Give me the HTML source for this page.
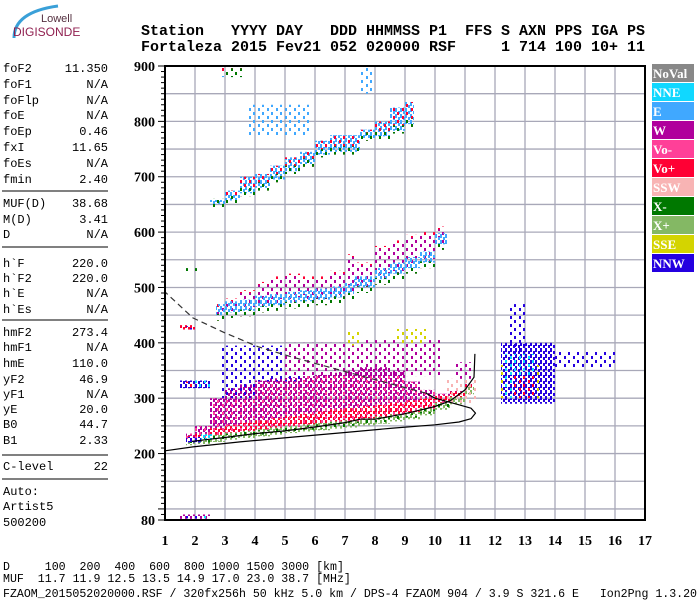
<!DOCTYPE html>
<html><head><meta charset="utf-8">
<style>
html,body{margin:0;padding:0;background:#fff;}
svg{display:block;}
.mono{font-family:"Liberation Mono",monospace;}
.serifb{font-family:"Liberation Serif",serif;font-weight:bold;}
</style></head>
<body>
<svg id="chart" width="700" height="600" viewBox="0 0 700 600" xmlns="http://www.w3.org/2000/svg">
<defs id="defs"></defs>
<g>
  <path d="M14,38 Q14,12 58,6" stroke="#3aa0d8" stroke-width="3" fill="none"/>
  <text x="41" y="22" font-family="Liberation Sans, sans-serif" font-size="11" fill="#553040">Lowell</text>
  <text x="13" y="36" font-family="Liberation Sans, sans-serif" font-size="12" fill="#902050">DIGISONDE</text>
</g>
<g class="mono" font-size="15" font-weight="bold" fill="#000">
  <text x="141" y="35" xml:space="preserve" textLength="504">Station   YYYY DAY   DDD HHMMSS P1  FFS S AXN PPS IGA PS</text>
  <text x="141" y="51" xml:space="preserve" textLength="504">Fortaleza 2015 Fev21 052 020000 RSF     1 714 100 10+ 11</text>
</g>
<g id="leftpanel" class="mono" font-size="12" fill="#000"></g>
<g id="grid"></g>
<g id="echoes"></g>
<g id="curves"></g>
<g id="axes"></g>
<g id="legend"></g>
<g class="mono" font-size="11.6" fill="#000">
  <text x="3" y="570" xml:space="preserve">D     100  200  400  600  800 1000 1500 3000 [km]</text>
  <text x="3" y="582" xml:space="preserve">MUF  11.7 11.9 12.5 13.5 14.9 17.0 23.0 38.7 [MHz]</text>
  <text x="3" y="597" xml:space="preserve" textLength="694">FZAOM_2015052020000.RSF / 320fx256h 50 kHz 5.0 km / DPS-4 FZAOM 904 / 3.9 S 321.6 E   Ion2Png 1.3.20</text>
</g>
</svg>
<script>
// ---------- data ----------
const freqTicks = [1,2,3,4,5,6,7,8,9,10,11,12,13,14,15,16,17];
const heightTickLabels = [900,800,700,600,500,400,300,200,80];
const legendKeys = ["NoVal","NNE","E","W","Vo-","Vo+","SSW","X-","X+","SSE","NNW"];
const legendColors = ["#888888","#10d8ff","#40a8ff","#b0009c","#ff4098","#ff0034","#f8b4b4","#007800","#84b864","#d4d400","#2400e0"];
const legendText = ["#fff","#fff","#fff","#fff","#fff","#fff","#fff","#fff","#fff","#fff","#fff"];

// first-order F trace columns
const f1Freq   = [1.7,2.0,2.5,3.0,3.5,4.0,4.5,5.0,5.5,6.0,6.5,7.0,7.5,8.0,8.5,9.0,9.5,10.0,10.5,11.0,11.3];
const f1Low    = [218,220,224,228,231,234,237,240,243,245,248,250,254,257,261,265,272,282,292,310,328];
const f1RedTop = [232,236,246,252,256,260,264,268,272,276,280,282,286,288,292,296,300,305,312,325,340];
const f1MagTop = [236,250,300,318,325,332,336,338,340,342,346,350,356,356,350,330,315,308,312,325,340];
// second-order trace
const f2Freq = [2.7,3.0,3.5,4.0,4.5,5.0,5.5,6.0,6.5,7.0,7.3,8.0,8.5,9.0,9.5,10.0,10.4];
const f2Low  = [440,445,448,455,458,462,465,468,472,478,490,505,515,525,535,568,578];
const f2Top  = [470,480,495,510,520,525,520,520,530,560,545,575,585,595,600,610,605];
// third-order trace
const f3Freq = [2.5,3.0,3.5,4.0,4.5,5.0,5.5,6.0,6.5,7.5,8.0,8.5,9.0,9.3];
const f3Low  = [645,652,665,675,690,705,718,735,740,765,768,778,790,800];
const f3Top  = [658,675,700,705,720,735,745,765,775,785,800,825,835,840];

// isolated echo blocks: [fStart, fEnd, hLow, hHigh, colorIndex, density]
const echoBlocks = [
 [1.5,2.5,82,90,3,1],[1.6,2.4,83,89,1,0],[1.5,2.0,83,88,5,0],[1.7,2.1,83,89,10,0],
 [1.5,2.5,318,332,10,1],[1.6,2.4,320,330,5,0],[1.9,2.5,320,332,1,0],
 [1.5,2.0,424,432,5,1],[1.6,1.9,424,430,10,0],
 [1.6,2.1,528,535,7,0],
 [2.8,3.6,880,898,2,0],[2.8,3.6,882,898,5,0],[3.0,3.6,880,896,7,0],
 [3.8,5.8,775,830,2,0],[7.5,8.0,850,898,2,0],
 [2.8,5.5,330,395,10,0],[2.8,4.0,300,330,10,0],
 [5.0,10.2,340,400,3,0],[7.2,10.2,350,405,3,0],
 [8.7,9.7,398,425,9,0],[7.0,7.5,395,420,9,0],
 [10.4,11.4,290,335,6,0],[10.7,11.3,335,365,3,0],
 [12.2,14.0,290,400,10,1],[12.4,13.0,380,470,10,0],[12.2,13.5,300,360,9,0],
 [12.3,13.4,300,380,1,0],[14.0,16.0,355,385,10,0],[12.6,13.4,300,340,5,0],
 [2.2,2.6,225,235,1,1],[1.7,2.2,220,230,10,1]
];

// virtual height trace (h'F)
const traceFreq = [1.9,2.5,3.0,4.0,5.0,6.0,7.0,7.5,8.0,9.0,10.0,10.5,11.0,11.3,11.33];
const traceH    = [222,226,229,236,241,248,256,262,262,272,285,295,315,338,380];
// electron density profile: lower (solid) branch & upper branch
const profLowF = [1.0,1.93,3.5,5.3,7.0,8.6,10.0,10.8,11.2,11.35];
const profLowH = [205,212,221,230,238,246,252,257,263,273];
const profUpF  = [11.35,11.2,10.8,10.0,9.7,8.8,7.9,6.4,5.2,4.1,3.0,1.93,1.0];
const profUpH  = [273,282,288,300,309,322,335,357,375,393,418,445,492];

const panelRows = [
 ["foF2","11.350",68],["foF1","N/A",84],["foFlp","N/A",100],["foE","N/A",115],
 ["foEp","0.46",131],["fxI","11.65",147],["foEs","N/A",163],["fmin","2.40",179],
 ["MUF(D)","38.68",203],["M(D)","3.41",219],["D","N/A",234],
 ["h`F","220.0",263],["h`F2","220.0",278],["h`E","N/A",293],["h`Es","N/A",309],
 ["hmF2","273.4",332],["hmF1","N/A",347],["hmE","110.0",363],["yF2","46.9",379],
 ["yF1","N/A",394],["yE","20.0",409],["B0","44.7",424],["B1","2.33",440],
 ["C-level","22",466],["Auto:","",491],["Artist5","",506],["500200","",522]
];
const panelSeps = [191,247,320,455,479];

// ---------- scales ----------
const X0=165, X1=645, YT=66, YB=520;
function xs(f){ return X0 + (f-1)*(X1-X0)/16; }
function ys(h){ return YT + (900-h)*(YB-YT)/820; }
const NS="http://www.w3.org/2000/svg";
function mk(tag, attrs, parent){ const e=document.createElementNS(NS,tag); for(const k in attrs) e.setAttribute(k,attrs[k]); parent.appendChild(e); return e; }

// patterns
const defs=document.getElementById('defs');
legendColors.forEach((c,i)=>{
  const pd=mk('pattern',{id:'pd'+i,width:5,height:6,patternUnits:'userSpaceOnUse'},defs);
  mk('rect',{x:0,y:0,width:2,height:4,fill:c},pd);
  mk('rect',{x:3,y:3,width:2,height:3,fill:c},pd);
  const ps=mk('pattern',{id:'ps'+i,width:9,height:8,patternUnits:'userSpaceOnUse'},defs);
  mk('rect',{x:1,y:0,width:2,height:3,fill:c},ps);
  mk('rect',{x:6,y:4,width:2,height:3,fill:c},ps);
});

// left panel
const lp=document.getElementById('leftpanel');
panelRows.forEach(r=>{
  const t=mk('text',{x:3,y:r[2]+4},lp); t.textContent=r[0];
  
  
  if(r[1]){ const v=mk('text',{x:108,y:r[2]+4,'text-anchor':'end'},lp); v.textContent=r[1];
    
     }
});
panelSeps.forEach(y=>{
  const l=mk('line',{x1:2,x2:108,y1:y,y2:y,stroke:'#000','stroke-width':1},lp);
  
  
});

// grid
const grid=document.getElementById('grid');
freqTicks.forEach(f=>{
  if(f>1&&f<17){ const l=mk('line',{x1:xs(f),x2:xs(f),y1:YT,y2:YB,stroke:'#a8a8b8','stroke-width':1.3},grid);
    
     }
});
for(let h=100;h<900;h+=50){
  const l=mk('line',{x1:X0,x2:X1,y1:ys(h),y2:ys(h),stroke:'#a8a8b8','stroke-width':1.3},grid);
  
  
}

// echoes
const eg=document.getElementById('echoes');
function block(f1,f2,h1,h2,ci,dense,name){
  const r=mk('rect',{x:xs(f1),y:ys(h2),width:Math.max(1,xs(f2)-xs(f1)),height:Math.max(1,ys(h1)-ys(h2)),fill:'url(#'+(dense?'pd':'ps')+ci+')'},eg);
  
  
}
for(let i=0;i<f1Freq.length-1;i++){
  const a=f1Freq[i], b=f1Freq[i+1];
  block(a,b,f1RedTop[i],Math.max(f1MagTop[i],f1RedTop[i]+1),3,1,'f-trace-w-band');
  block(a,b,f1RedTop[i]-8,f1MagTop[i],4,0,'f-trace-vo-minus');
  block(a,b,f1Low[i]+4,f1RedTop[i],5,1,'f-trace-vo-plus-band');
  block(a,b,f1Low[i]+8,f1RedTop[i],4,0,'f-trace-vo-minus-band');
  block(a,b,f1Low[i]-3,f1Low[i]+10,8,1,'f-trace-x-plus-band');
  block(a,b,f1Low[i],f1Low[i]+8,7,0,'f-trace-x-minus-band');
}
for(let i=0;i<f2Freq.length-1;i++){
  const a=f2Freq[i], b=f2Freq[i+1];
  block(a,b,f2Low[i],f2Top[i],5,0,'f2-trace-vo-plus');
  block(a,b,f2Low[i]+5,f2Top[i]-5,3,0,'f2-trace-w');
  block(a,b,f2Low[i]+10,f2Low[i]+30,2,1,'f2-trace-e-band');
  block(a,b,f2Low[i],f2Low[i]+12,7,0,'f2-trace-x-minus');
}
for(let i=0;i<f3Freq.length-1;i++){
  const a=f3Freq[i], b=f3Freq[i+1];
  block(a,b,f3Low[i]+5,f3Top[i],2,1,'f3-trace-e-band');
  block(a,b,f3Low[i],f3Top[i],5,0,'f3-trace-vo-plus');
  block(a,b,f3Low[i],f3Low[i]+15,7,0,'f3-trace-x-minus');
}
echoBlocks.forEach(b=>block(b[0],b[1],b[2],b[3],b[4],b[5],'echo-cluster-'+legendKeys[b[4]].toLowerCase().replace(/[^a-z]/g,'')));

// curves
const cg=document.getElementById('curves');
function pts(F,H){ return F.map((f,i)=>xs(f).toFixed(1)+','+ys(H[i]).toFixed(1)).join(' '); }
const tr=mk('polyline',{points:pts(traceFreq,traceH),fill:'none',stroke:'#000','stroke-width':1.2},cg);


const pl=mk('polyline',{points:pts(profLowF,profLowH)+' '+pts(profUpF.slice(0,5),profUpH.slice(0,5)),fill:'none',stroke:'#000','stroke-width':1.2,'stroke-linejoin':'round'},cg);


const pu=mk('polyline',{points:pts(profUpF.slice(4),profUpH.slice(4)),fill:'none',stroke:'#333','stroke-width':1.2,'stroke-dasharray':'6,4'},cg);



// axes
const ax=document.getElementById('axes');
const fr=mk('rect',{x:X0,y:YT,width:X1-X0,height:YB-YT,fill:'none',stroke:'#000','stroke-width':2},ax);


for(let h=80;h<=900;h+=10){
  const major=(h%100===0)||h===80;
  const t=mk('line',{x1:X0-(major?7:4),x2:X0,y1:ys(h),y2:ys(h),stroke:'#000','stroke-width':1},ax);
  
  
}
heightTickLabels.forEach(h=>{
  const t=mk('text',{x:155,y:ys(h)+5,'text-anchor':'end','font-size':14,class:'serifb'},ax);
  t.textContent=h;
  
  
});
freqTicks.forEach(f=>{
  const t=mk('text',{x:xs(f),y:545,'text-anchor':'middle','font-size':14,class:'serifb'},ax);
  t.textContent=f;
  
  
});

// legend
const lg=document.getElementById('legend');
legendKeys.forEach((k,i)=>{
  const y=64+i*19;
  const r=mk('rect',{x:652,y:y,width:42,height:18,fill:legendColors[i]},lg);
  
  
  const t=mk('text',{x:653,y:y+14,'font-size':13,class:'serifb',fill:legendText[i]},lg);
  t.textContent=k;
  
  
});
</script>
</body></html>
